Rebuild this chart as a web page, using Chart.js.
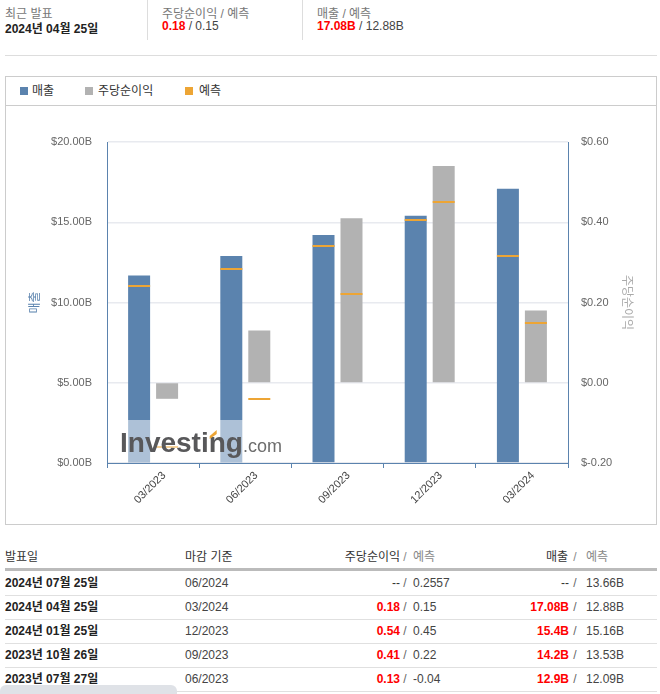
<!DOCTYPE html>
<html>
<head>
<meta charset="utf-8">
<script src="https://cdn.jsdelivr.net/npm/chart.js"></script>
<style>
  body { margin: 0; width: 660px; height: 694px; background: #fff; position: relative; overflow: hidden;
         font-family: "Liberation Sans", Arial, "Noto Sans CJK KR", sans-serif; font-size: 12px; color: #333; }
  .abs { position: absolute; white-space: nowrap; }
  .lbl { color: #777; }
  .red { color: #f00; font-weight: bold; }
  .vsep { position: absolute; top: 0; width: 1px; height: 40px; background: #ddd; }
  #box { position: absolute; left: 5px; top: 76px; width: 650px; height: 447px; border: 1px solid #ccc; }
  #legend { position: relative; height: 28px; border-bottom: 1px solid #ccc; }
  .sq { position: absolute; top: 10px; width: 8px; height: 8px; }
  .lt { position: absolute; top: 6px; line-height: 16px; color: #333; }
  #chartWrap { position: absolute; left: 0; top: 29px; width: 650px; height: 418px; }
  .row { position: absolute; left: 5px; width: 652px; height: 24px; line-height: 24px; border-bottom: 1px solid #e0e0e0; }
  .row span, .hdr span { position: absolute; white-space: nowrap; }
  .hdr { position: absolute; left: 5px; width: 652px; top: 548px; height: 20px; line-height: 18px; border-bottom: 3px solid #bbb; }
</style>
</head>
<body>
<!-- latest release -->
<div class="abs lbl" style="left:5px;top:4px;">최근 발표</div>
<div class="abs" style="left:5px;top:19px;font-weight:bold;color:#222;">2024년 04월 25일</div>
<div class="vsep" style="left:147px;"></div>
<div class="abs lbl" style="left:162px;top:4px;">주당순이익 / 예측</div>
<div class="abs" style="left:162px;top:19px;color:#444;"><span class="red">0.18</span> / 0.15</div>
<div class="vsep" style="left:302px;"></div>
<div class="abs lbl" style="left:317px;top:4px;">매출 / 예측</div>
<div class="abs" style="left:317px;top:19px;color:#444;"><span class="red">17.08B</span> / 12.88B</div>
<div class="abs" style="left:5px;top:55px;width:652px;height:1px;background:#ddd;"></div>

<div id="box">
  <div id="legend">
    <div class="sq" style="left:14px;background:#5b83ae;"></div><div class="lt" style="left:26px;">매출</div>
    <div class="sq" style="left:79px;background:#b2b2b2;"></div><div class="lt" style="left:92px;">주당순이익</div>
    <div class="sq" style="left:179px;background:#eda535;"></div><div class="lt" style="left:193px;">예측</div>
  </div>
  <div id="chartWrap"><canvas id="chart"></canvas></div>
</div>

<div class="hdr">
  <span style="left:0;">발표일</span>
  <span style="left:180px;">마감 기준</span>
  <span style="left:295px;width:100px;text-align:right;">주당순이익</span>
  <span style="left:395px;width:10px;text-align:center;color:#888;">/</span>
  <span style="left:408px;color:#888;">예측</span>
  <span style="left:463px;width:100px;text-align:right;">매출</span>
  <span style="left:565px;width:10px;text-align:center;color:#888;">/</span>
  <span style="left:581px;color:#888;">예측</span>
</div>
<div id="table"></div>
<div class="abs" style="left:0;top:685px;width:177px;height:20px;border-radius:6px;background:#dfe2e7;"></div>

<script>
// chart data
const categories = ['03/2023', '06/2023', '09/2023', '12/2023', '03/2024'];
const revenue = [11.68, 12.9, 14.2, 15.4, 17.08];
const revenueForecast = [11.0, 12.09, 13.53, 15.16, 12.88];
const eps = [-0.04, 0.13, 0.41, 0.54, 0.18];
const epsForecast = [-0.16, -0.04, 0.22, 0.45, 0.15];
const revenueTicks = [0, 5, 10, 15, 20];
const epsTicks = [-0.2, 0, 0.2, 0.4, 0.6];

// table data
const tableDates = ['2024년 07월 25일', '2024년 04월 25일', '2024년 01월 25일', '2023년 10월 26일', '2023년 07월 27일'];
const tablePeriods = ['06/2024', '03/2024', '12/2023', '09/2023', '06/2023'];
const tableEps = ['--', '0.18', '0.54', '0.41', '0.13'];
const tableEpsForecast = ['0.2557', '0.15', '0.45', '0.22', '-0.04'];
const tableRevenue = ['--', '17.08B', '15.4B', '14.2B', '12.9B'];
const tableRevenueForecast = ['13.66B', '12.88B', '15.16B', '13.53B', '12.09B'];

const BLUE = '#5b83ae';
const GREY = '#b2b2b2';
const ORANGE = '#eda535';
const FONT = '"Liberation Sans", Arial, "Noto Sans CJK KR", sans-serif';

function renderTable() {
  const table = document.getElementById('table');
  tableDates.forEach((d, i) => {
    const row = document.createElement('div');
    row.className = 'row';
    row.style.top = (571 + i * 24) + 'px';
    const actualCls = tableEps[i] === '--' ? '' : 'red';
    const revCls = tableRevenue[i] === '--' ? '' : 'red';
    row.innerHTML = `
      <span style="left:0;font-weight:bold;color:#222;">${d}</span>
      <span style="left:180px;color:#444;">${tablePeriods[i]}</span>
      <span class="${actualCls}" style="left:295px;width:100px;text-align:right;">${tableEps[i]}</span>
      <span style="left:395px;width:10px;text-align:center;color:#666;">/</span>
      <span style="left:408px;color:#444;">${tableEpsForecast[i]}</span>
      <span class="${revCls}" style="left:463px;width:101px;text-align:right;">${tableRevenue[i]}</span>
      <span style="left:565px;width:10px;text-align:center;color:#666;">/</span>
      <span style="left:581px;color:#444;">${tableRevenueForecast[i]}</span>`;
    table.appendChild(row);
  });
}

const forecastPlugin = {
  id: 'forecast',
  afterDatasetsDraw(chart) {
    const ctx = chart.ctx;
    ctx.save();
    [[0, revenueForecast, 'y'], [1, epsForecast, 'y1']].forEach(([di, vals, axis]) => {
      chart.getDatasetMeta(di).data.forEach((bar, i) => {
        const y = chart.scales[axis].getPixelForValue(vals[i]);
        ctx.fillStyle = ORANGE;
        ctx.fillRect(bar.x - bar.width / 2, Math.round(y) - 1, bar.width, 2);
      });
    });

    // watermark
    const area = chart.chartArea;
    const left = area.left + 3;
    ctx.fillStyle = 'rgba(255,255,255,0.5)';
    ctx.fillRect(left, area.bottom - 43, 175, 42);
    ctx.textBaseline = 'alphabetic';
    ctx.textAlign = 'left';
    ctx.font = 'bold 28px ' + FONT;
    ctx.fillStyle = '#58585a';
    const x0 = left + 10;
    const base = area.bottom - 11;
    ctx.fillText('Investing', x0, base);
    const w = ctx.measureText('Investing').width;
    const wPre = ctx.measureText('Investin').width - ctx.measureText('n').width;
    ctx.fillStyle = ORANGE;
    ctx.beginPath();
    ctx.moveTo(x0 + wPre + 1, base - 16);
    ctx.lineTo(x0 + wPre + 8, base - 22);
    ctx.lineTo(x0 + wPre + 8, base - 18);
    ctx.lineTo(x0 + wPre + 1, base - 13);
    ctx.fill();
    ctx.font = '18px ' + FONT;
    ctx.fillStyle = '#6d6d6d';
    ctx.fillText('.com', x0 + w, base);
    ctx.restore();
  }
};

function renderChart() {
  const ctx = document.getElementById('chart').getContext('2d');
  new Chart(ctx, {
    type: 'bar',
    data: {
      labels: categories,
      datasets: [
        { label: '매출', data: revenue, backgroundColor: BLUE, yAxisID: 'y',
          categoryPercentage: 0.607, barPercentage: 0.786 },
        { label: '주당순이익', data: eps, backgroundColor: GREY, yAxisID: 'y1',
          categoryPercentage: 0.607, barPercentage: 0.786 }
      ]
    },
    options: {
      responsive: true,
      maintainAspectRatio: false,
      animation: false,
      layout: { padding: { top: 36, left: 0, right: 0, bottom: 0 } },
      plugins: { legend: { display: false }, tooltip: { enabled: false } },
      scales: {
        x: {
          afterFit: s => { s.height = 61; },
          grid: { drawOnChartArea: false, drawTicks: true, tickLength: 5, color: BLUE },
          border: { color: BLUE, width: 1 },
          ticks: { color: '#444', font: { family: FONT, size: 11 }, minRotation: 45, maxRotation: 45,
                   padding: 1, labelOffset: 11 }
        },
        y: {
          position: 'left',
          min: 0, max: 20,
          afterBuildTicks: s => { s.ticks = revenueTicks.map(v => ({ value: v })); },
          afterFit: s => { s.width = 101; },
          grid: { color: '#e8eaef', lineWidth: 1.5, drawTicks: false },
          border: { color: BLUE, width: 1 },
          ticks: { color: '#666', padding: 15, font: { family: FONT, size: 11 },
                   callback: v => '$' + v.toFixed(2) + 'B' },
          title: { display: true, text: '매출', color: BLUE, font: { family: FONT, size: 12 },
                   padding: { top: 22, bottom: 0 } }
        },
        y1: {
          position: 'right',
          min: -0.2, max: 0.6,
          afterBuildTicks: s => { s.ticks = epsTicks.map(v => ({ value: v })); },
          afterFit: s => { s.width = 88; },
          grid: { drawOnChartArea: false, drawTicks: false },
          border: { color: BLUE, width: 1 },
          ticks: { color: '#666', padding: 13, font: { family: FONT, size: 11 },
                   callback: v => '$' + v.toFixed(2) },
          title: { display: true, text: '주당순이익', color: '#aaa', font: { family: FONT, size: 12 },
                   padding: { top: 22, bottom: 0 } }
        }
      }
    },
    plugins: [forecastPlugin]
  });
}

renderTable();
renderChart();
</script>
</body>
</html>
